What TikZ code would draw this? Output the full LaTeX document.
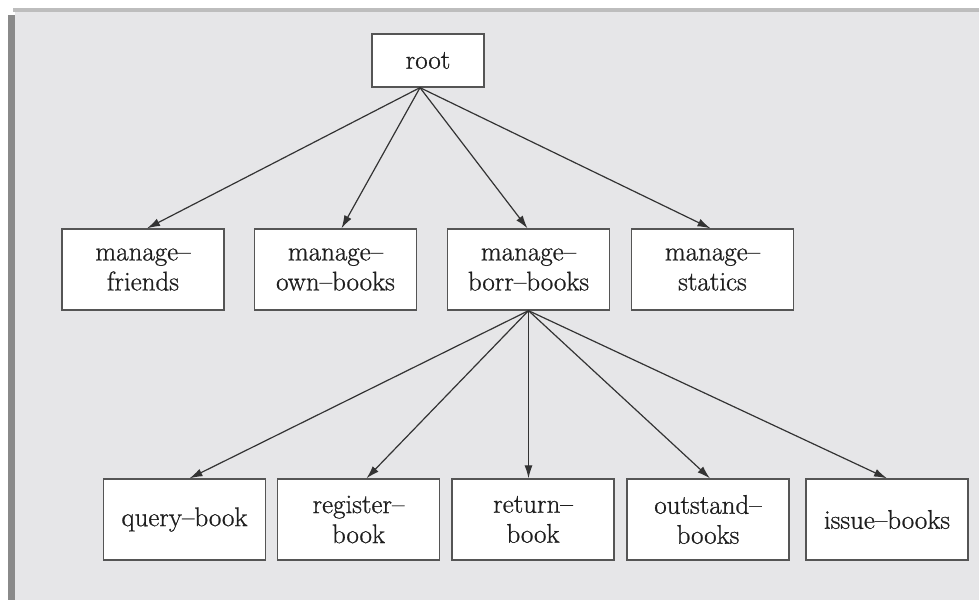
\documentclass[tikz,border=0pt]{standalone}
\usepackage{fontspec}
\newfontfamily\boxfont{Latin Modern Roman}[FakeBold=0.8]
\usetikzlibrary{arrows.meta}
\definecolor{panelbg}{HTML}{E6E6E8}
\definecolor{topline}{HTML}{BDBDBD}
\definecolor{leftbar}{HTML}{8A8A8A}
\definecolor{boxline}{HTML}{555555}
\definecolor{txt}{HTML}{1E1E1E}
\definecolor{linkc}{HTML}{333333}
\tikzset{
  box/.style={draw=boxline, fill=white, line width=1.3pt, align=center,
    minimum width=162pt, minimum height=81pt, inner sep=2pt, text=txt,
    font=\boxfont\fontsize{27}{30}\selectfont},
  rootbox/.style={box, minimum width=112pt, minimum height=53pt},
  link/.style={draw=linkc, line width=1.2pt, -{Latex[length=13pt,width=8pt]}}
}
\begin{document}
\begin{tikzpicture}[x=1pt,y=-1pt]
\useasboundingbox (0,0) rectangle (979,600);
\fill[white] (0,0) rectangle (979,600);
\fill[topline] (13,8) rectangle (979,12);
\fill[panelbg] (15,12) rectangle (979,600);
\fill[leftbar] (8,15) rectangle (15,600);

\node[rootbox] (root) at (428,60.5) {root};

\node[box] (friends) at (143,269.5) {manage–\\friends};
\node[box] (own) at (335.5,269.5) {manage–\\own–books};
\node[box] (borr) at (528.5,269.5) {manage–\\borr–books};
\node[box] (statics) at (712.5,269.5) {manage–\\statics};

\node[box] (query) at (184.5,519.5) {query–book};
\node[box] (register) at (358.5,519.5) {register–\\book};
\node[box] (return) at (533,519.5) {return–\\book};
\node[box] (outstand) at (708,519.5) {outstand–\\books};
\node[box] (issue) at (887,519.5) {issue–books};

\coordinate (rs) at ([xshift=-8pt]root.south);
\coordinate (bs) at (borr.south);

\draw[link] (rs) -- ([xshift=4pt]friends.north);
\draw[link] (rs) -- ([xshift=6pt]own.north);
\draw[link] (rs) -- ([xshift=-1pt]borr.north);
\draw[link] (rs) -- ([xshift=-2pt]statics.north);

\draw[link] (bs) -- ([xshift=5pt]query.north);
\draw[link] (bs) -- ([xshift=8pt]register.north);
\draw[link] (bs) -- ([xshift=-4.5pt]return.north);
\draw[link] (bs) -- ([xshift=2pt]outstand.north);
\draw[link] (bs) -- (issue.north);
\end{tikzpicture}
\end{document}
